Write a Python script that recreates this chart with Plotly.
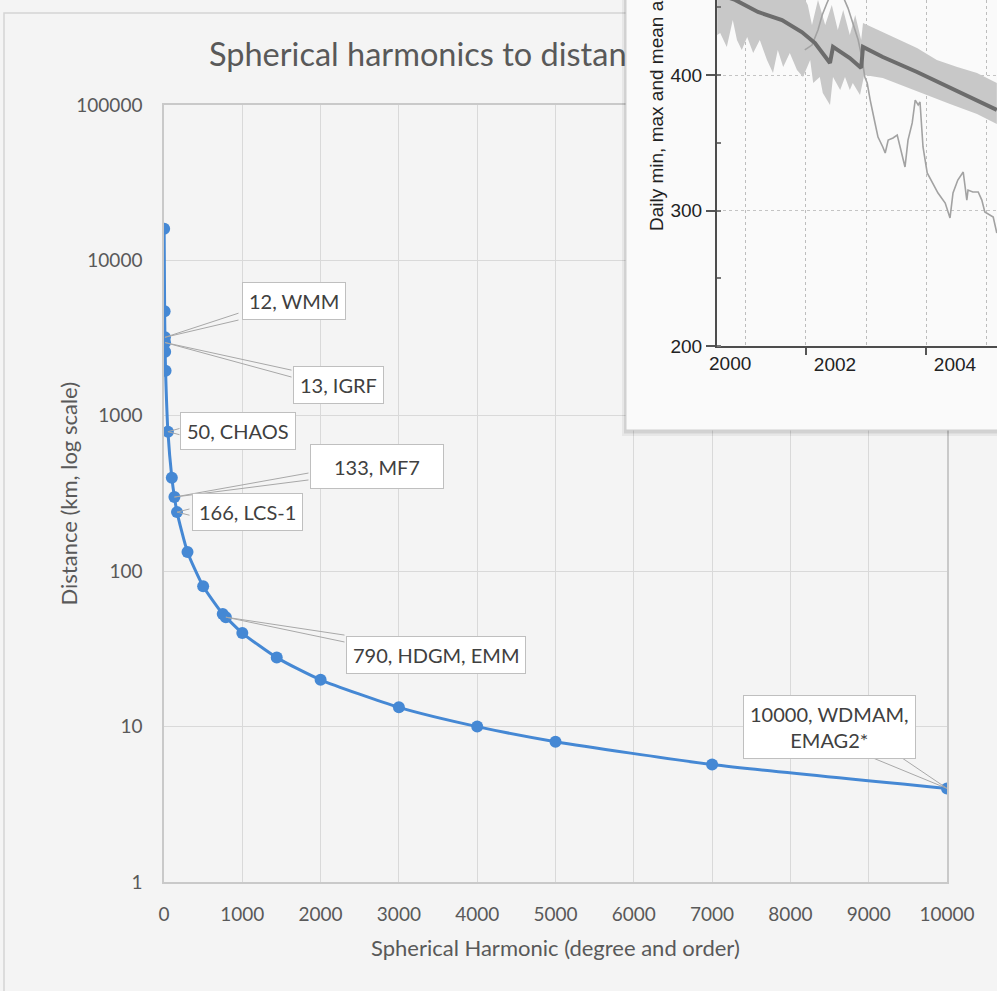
import numpy as np
import plotly.graph_objects as go

# ---------------------------------------------------------------------------
# Spherical-harmonic degree/order and the matching resolvable distance (km)
# ---------------------------------------------------------------------------
harmonic_degree = [2, 8, 12, 13, 15, 20, 50, 100, 133, 166, 300, 500, 750, 790,
                   1000, 1440, 2000, 3000, 4000, 5000, 7000, 10000]
distance_km = [16000, 4700, 3200, 2960, 2580, 1950, 790, 400, 300, 240, 133, 80,
               53, 50.6, 40, 27.8, 20, 13.3, 10, 8, 5.7, 4]

# Field models called out on the curve
model_degree = [12, 13, 50, 133, 166, 790, 10000]
model_distance = [3200, 2960, 790, 300, 240, 50.6, 4]
model_labels = ["12, WMM", "13, IGRF", "50, CHAOS", "133, MF7", "166, LCS-1",
                "790, HDGM, EMM", "10000, WDMAM,<br>EMAG2*"]

x_tick_values = list(range(0, 10001, 1000))
y_tick_values = [1, 10, 100, 1000, 10000, 100000]
y_tick_labels = ["1", "10", "100", "1000", "10000", "100000"]

# ---------------------------------------------------------------------------
# Inset: daily min / max / mean satellite altitude (km)
# ---------------------------------------------------------------------------
alt_mean_year = [2000.52, 2000.82, 2001.20, 2001.60, 2001.93, 2002.15, 2002.40,
                 2002.45, 2002.73, 2002.92, 2002.95, 2003.28, 2003.85, 2004.40,
                 2004.85, 2005.18]
alt_mean_km = [460.0, 455.4, 446.5, 440.6, 431.7, 423.6, 408.9,
               420.7, 412.5, 405.2, 420.7, 413.3, 402.2, 390.4,
               381.5, 374.2]

alt_max_year = [2000.52, 2001.90, 2002.03, 2002.10, 2002.20, 2002.32, 2002.43,
                2002.53, 2002.62, 2002.73, 2002.82, 2002.92, 2002.95, 2003.28,
                2003.57, 2003.85, 2004.18, 2004.52, 2004.85, 2005.18]
alt_max_km = [462.7, 462.7, 451.7, 436.9, 455.4, 436.9, 451.7,
              433.2, 448.0, 429.5, 444.3, 425.8, 438.4, 431.7,
              425.8, 419.9, 411.1, 405.9, 401.5, 394.1]

alt_min_year = [2000.52, 2000.57, 2000.68, 2000.78, 2000.85, 2000.93, 2001.02,
                2001.12, 2001.23, 2001.35, 2001.45, 2001.53, 2001.62, 2001.73,
                2001.85, 2001.95, 2002.07, 2002.12, 2002.23, 2002.28, 2002.40,
                2002.45, 2002.57, 2002.65, 2002.73, 2002.78, 2002.90, 2002.97,
                2003.28, 2003.85, 2004.40, 2004.85, 2005.18]
alt_min_km = [429.5, 431.0, 420.7, 440.6, 425.8, 418.5, 428.0,
              416.2, 425.8, 411.1, 401.5, 418.5, 405.9, 416.2,
              403.7, 398.5, 411.1, 394.1, 398.5, 386.7, 377.9,
              398.5, 388.9, 398.5, 388.9, 394.1, 385.2, 400.0,
              397.8, 388.2, 378.6, 371.2, 363.8]

alt_other_year = [2001.98, 2002.10, 2002.20, 2002.27, 2002.35, 2002.43, 2002.53,
                  2002.62, 2002.70, 2002.78, 2002.87, 2002.93, 2002.98, 2003.02,
                  2003.07, 2003.15, 2003.20, 2003.28, 2003.32, 2003.37, 2003.45,
                  2003.52, 2003.57, 2003.65, 2003.70, 2003.77, 2003.82, 2003.87,
                  2003.90, 2003.95, 2004.02, 2004.10, 2004.20, 2004.32, 2004.40,
                  2004.45, 2004.53, 2004.62, 2004.68, 2004.70, 2004.78, 2004.87,
                  2004.93, 2004.98, 2005.12, 2005.18]
alt_other_km = [418.5, 422.1, 433.2, 444.3, 453.1, 461.3, 462.7,
                457.6, 449.4, 438.4, 425.8, 413.3, 398.5, 394.1,
                381.5, 364.6, 354.2, 346.9, 342.4, 352.0, 353.5,
                355.7, 346.9, 332.1, 352.0, 364.6, 381.5, 377.9,
                380.1, 346.9, 327.7, 321.0, 312.9, 305.5, 294.5,
                312.9, 322.5, 328.4, 307.7, 315.1, 313.7, 313.7,
                307.7, 298.9, 295.2, 283.4]

alt_x_ticks = [2002, 2004]
alt_y_ticks = [200, 300, 400]

# ---------------------------------------------------------------------------
# Page geometry (pixels) and helpers
# ---------------------------------------------------------------------------
W, H = 997, 991
PL, PR, PT, PB = 164, 947, 105, 882          # main plot area
IL, IT_AX = 717, 346                          # inset axes: left edge, x-axis row
BOX_L, BOX_B = 626, 430                       # inset panel


def fx(px):
    return px / W


def fy(py):
    return (H - py) / H


def px_main_x(v):
    return PL + v / 10000 * (PR - PL)


def px_main_y(v):
    return PT + (5 - np.log10(v)) / 5 * (PB - PT)


MAIN_FONT = "Lato, 'Open Sans', sans-serif"
INSET_FONT = "'Liberation Sans', Arial, sans-serif"
GREY_TEXT = "#595959"
BLUE = "#4588d4"
LEADER = "#a8a8a8"

fig = go.Figure()

# main curve
fig.add_trace(go.Scatter(
    x=harmonic_degree, y=distance_km, mode="lines+markers",
    line=dict(color=BLUE, width=3, shape="spline", smoothing=0.6),
    marker=dict(color=BLUE, size=12),
    xaxis="x", yaxis="y", showlegend=False, hoverinfo="skip"))

# chart title (kept in its own layer so the inset panel sits over it)
fig.add_trace(go.Scatter(
    x=[209], y=[58], mode="text",
    text=["Spherical harmonics to distance/equatorial km"],
    textposition="middle right",
    textfont=dict(family=MAIN_FONT, size=32.5, color=GREY_TEXT),
    xaxis="x2", yaxis="y2", showlegend=False, hoverinfo="skip"))

# panel layer for the inset
fig.add_trace(go.Scatter(x=[], y=[], xaxis="x3", yaxis="y3",
                         showlegend=False, hoverinfo="skip"))

# inset: min-max band, second satellite, mean line
fig.add_trace(go.Scatter(
    x=alt_max_year + alt_min_year[::-1], y=alt_max_km + alt_min_km[::-1],
    fill="toself", fillcolor="#c8c8c8", line=dict(width=0), mode="lines",
    xaxis="x4", yaxis="y4", showlegend=False, hoverinfo="skip"))
fig.add_trace(go.Scatter(
    x=alt_other_year, y=alt_other_km, mode="lines",
    line=dict(color="#a2a2a2", width=1.6),
    xaxis="x4", yaxis="y4", showlegend=False, hoverinfo="skip"))
fig.add_trace(go.Scatter(
    x=alt_mean_year, y=alt_mean_km, mode="lines",
    line=dict(color="#6c6c6c", width=4),
    xaxis="x4", yaxis="y4", showlegend=False, hoverinfo="skip"))

annotations = []

# callout boxes: centre and half size in pixels, optional fixed text area
callout_centres = [(294, 301), (338, 385), (238, 431), (377, 466),
                   (247, 512), (436, 655), (829, 727)]
callout_half = [(54, 17.5), (45, 17.5), (57, 17.5), (67, 22.5),
                (56, 17.5), (90, 18), (86, 30)]
callout_area = [None, None, None, (120, 31), None, None, None]

# wedge-shaped leaders: two thin lines from the box edge to the point
for n, d, (cx, cy), (hw, hh) in zip(model_degree, model_distance,
                                    callout_centres, callout_half):
    px, py = px_main_x(n), px_main_y(d)
    dx, dy = px - cx, py - cy
    tx = hw / abs(dx) if dx else np.inf
    ty = hh / abs(dy) if dy else np.inf
    t = min(tx, ty)
    ex, ey = cx + t * dx, cy + t * dy
    if tx <= ty:
        tails = [(ex, ey - 3.5), (ex, ey + 3.5)]
    else:
        tails = [(ex - 16, ey), (ex + 14, ey)]
    for (sx, sy) in tails:
        annotations.append(dict(
            x=n, y=np.log10(d), xref="x", yref="y", text="",
            showarrow=True, arrowhead=0, arrowwidth=1, arrowcolor=LEADER,
            ax=sx - px, ay=sy - py, standoff=0, startstandoff=0))

for label, (cx, cy), area in zip(model_labels, callout_centres, callout_area):
    box = dict(
        x=fx(cx), y=fy(cy), xref="paper", yref="paper", text=label,
        xanchor="center", yanchor="middle", showarrow=False,
        bgcolor="#ffffff", bordercolor="#bfbfbf", borderwidth=1, borderpad=6,
        font=dict(family=MAIN_FONT, size=20, color="#404040"), align="center")
    if area:
        box.update(width=area[0], height=area[1])
    annotations.append(box)

# axis titles of the main chart
annotations.append(dict(
    x=fx((PL + PR) / 2), y=fy(947), xref="paper", yref="paper",
    xanchor="center", yanchor="middle",
    text="Spherical Harmonic (degree and order)", showarrow=False,
    font=dict(family=MAIN_FONT, size=22, color=GREY_TEXT)))
annotations.append(dict(
    x=fx(68), y=fy((PT + PB) / 2), xref="paper", yref="paper",
    xanchor="center", yanchor="middle",
    text="Distance (km, log scale)", showarrow=False, textangle=-90,
    font=dict(family=MAIN_FONT, size=22, color=GREY_TEXT)))

# inset labels
annotations.append(dict(
    x=fx(657), y=fy(233), xref="paper", yref="paper", xanchor="center",
    yanchor="bottom", text="Daily min, max and mean altitude (km)",
    showarrow=False, textangle=-90,
    font=dict(family=INSET_FONT, size=19, color="#222222")))
annotations.append(dict(
    x=fx(730), y=fy(363), xref="paper", yref="paper", text="2000",
    xanchor="center", yanchor="middle",
    showarrow=False, font=dict(family=INSET_FONT, size=19, color="#222222")))

shapes = [
    # outer chart frame
    dict(type="rect", xref="paper", yref="paper", x0=fx(4), x1=1.01,
         y0=-0.01, y1=fy(13), line=dict(color="#d4d4d4", width=1.5),
         layer="below"),
    # inset panel with a soft drop shadow
    dict(type="rect", xref="x3", yref="y3", x0=BOX_L - 4, x1=1000, y0=-5,
         y1=BOX_B + 6, fillcolor="rgba(0,0,0,0.05)", line=dict(width=0),
         layer="below"),
    dict(type="rect", xref="x3", yref="y3", x0=BOX_L - 2, x1=1000, y0=-5,
         y1=BOX_B + 3.5, fillcolor="rgba(0,0,0,0.09)", line=dict(width=0),
         layer="below"),
    dict(type="rect", xref="x3", yref="y3", x0=BOX_L, x1=1000, y0=-5,
         y1=BOX_B, fillcolor="#fafafa", line=dict(color="#d0d0d0", width=1),
         layer="below"),
]

hidden = dict(visible=False, fixedrange=True)

fig.update_layout(
    width=W, height=H,
    margin=dict(l=0, r=0, t=0, b=0),
    paper_bgcolor="#f4f4f4", plot_bgcolor="rgba(0,0,0,0)",
    showlegend=False,
    xaxis=dict(domain=[fx(PL), fx(PR)], range=[0, 10000], anchor="y",
               tickvals=x_tick_values, ticktext=[str(v) for v in x_tick_values],
               showgrid=True, gridcolor="#d9d9d9", gridwidth=1,
               showline=True, linecolor="#c9c9c9", linewidth=1.5, mirror=True,
               ticks="", ticklabelstandoff=14, zeroline=False,
               tickfont=dict(family=MAIN_FONT, size=19, color=GREY_TEXT),
               automargin=False, fixedrange=True),
    yaxis=dict(domain=[fy(PB), fy(PT)], type="log", range=[0, 5], anchor="x",
               tickvals=y_tick_values, ticktext=y_tick_labels,
               showgrid=True, gridcolor="#d9d9d9", gridwidth=1,
               showline=True, linecolor="#c9c9c9", linewidth=1.5, mirror=True,
               ticks="", ticklabelstandoff=16, zeroline=False,
               tickfont=dict(family=MAIN_FONT, size=19, color=GREY_TEXT),
               automargin=False, fixedrange=True),
    xaxis2=dict(domain=[0, 1], range=[0, W], anchor="y2", **hidden),
    yaxis2=dict(domain=[fy(95), fy(20)], range=[95, 20], anchor="x2", **hidden),
    xaxis3=dict(domain=[fx(620), 1], range=[620, 997], anchor="y3", **hidden),
    yaxis3=dict(domain=[fy(440), 1], range=[440, 0], anchor="x3", **hidden),
    xaxis4=dict(domain=[fx(IL), 1], range=[2000.517, 2005.183], anchor="y4",
                tickvals=alt_x_ticks, ticktext=[str(v) for v in alt_x_ticks],
                ticks="outside", ticklen=7, tickwidth=1.5, tickcolor="#555555",
                ticklabelshift=29, ticklabelstandoff=-7,
                showgrid=True, gridcolor="#bdbdbd", griddash="dot",
                minor=dict(tick0=2001, dtick=1, showgrid=True,
                           gridcolor="#bdbdbd", griddash="dot", ticks=""),
                showline=True, linecolor="#4d4d4d", linewidth=2,
                zeroline=False, automargin=False, fixedrange=True,
                tickfont=dict(family=INSET_FONT, size=19, color="#222222")),
    yaxis4=dict(domain=[fy(IT_AX), 1], range=[200, 455.35], anchor="x4",
                tickvals=alt_y_ticks, ticktext=[str(v) for v in alt_y_ticks],
                ticks="outside", ticklen=9, tickwidth=1.5, tickcolor="#555555",
                ticklabelstandoff=0,
                showgrid=True, gridcolor="#c4c4c4", griddash="dot",
                minor=dict(dtick=50, ticks="inside", ticklen=4,
                           tickcolor="#777777", showgrid=False),
                showline=True, linecolor="#4d4d4d", linewidth=2,
                zeroline=False, automargin=False, fixedrange=True,
                tickfont=dict(family=INSET_FONT, size=19, color="#222222")),
    annotations=annotations,
    shapes=shapes,
)

fig.write_html("out.html", config={"displayModeBar": False})
